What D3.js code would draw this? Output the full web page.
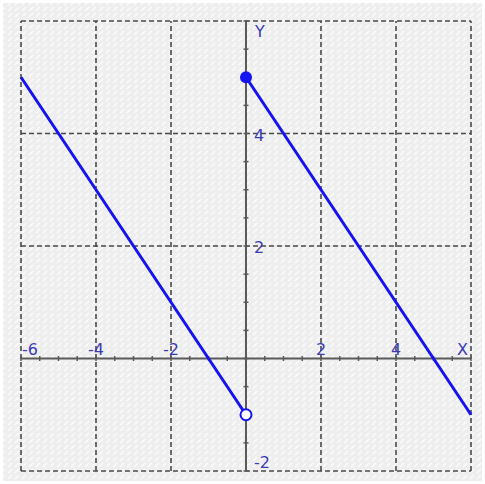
<!DOCTYPE html>
<html><head><meta charset="utf-8">
<script src="https://cdn.jsdelivr.net/npm/d3@7"></script>
<style>html,body{margin:0;padding:0;background:#fff;}svg{display:block;}</style>
</head><body>
<script>
const xDomain = [-6, 6];
const yDomain = [-2, 6];
const xTickLabels = [-6, -4, -2, 2, 4];
const yTickLabels = [-2, 2, 4];
const gridX = [-6, -4, -2, 2, 4, 6];
const gridY = [-2, 2, 4, 6];
const minorStep = 0.5;
// piece 1: y = -x - 1 on [-6, 0)
const leftX = [-6, 0];
const leftY = [5, -1];
// piece 2: y = 5 - x on [0, 6]
const rightX = [0, 6];
const rightY = [5, -1];
const closedPt = [0, 5];
const openPt = [0, -1];

const W = 485, H = 484;
const svg = d3.select("body").append("svg").attr("width", W).attr("height", H);
const defs = svg.append("defs");
const pat = defs.append("pattern").attr("id","tex").attr("patternUnits","userSpaceOnUse")
  .attr("width",7).attr("height",6);
pat.append("rect").attr("width",7).attr("height",6).attr("fill","#eeeeee");
pat.append("line").attr("x1",1).attr("y1",5).attr("x2",5).attr("y2",1)
  .attr("stroke","#fcfcfc").attr("stroke-width",1.3);
svg.append("rect").attr("x",3).attr("y",3).attr("width",W-6).attr("height",H-6).attr("fill","url(#tex)");

const x = d3.scaleLinear().domain(xDomain).range([21, 471]);
const y = d3.scaleLinear().domain(yDomain).range([471, 21]);

const gridColor = "#4a4a4a";
const g = svg.append("g");
gridX.forEach(v => g.append("line").attr("x1", x(v)).attr("x2", x(v)).attr("y1", y(yDomain[0])).attr("y2", y(yDomain[1]))
  .attr("stroke", gridColor).attr("stroke-width", 1.6).attr("stroke-dasharray", "5,3"));
gridY.forEach(v => g.append("line").attr("y1", y(v)).attr("y2", y(v)).attr("x1", x(xDomain[0])).attr("x2", x(xDomain[1]))
  .attr("stroke", gridColor).attr("stroke-width", 1.6).attr("stroke-dasharray", "5,3"));

const axisColor = "#5a5a5a";
g.append("line").attr("x1", x(xDomain[0])).attr("x2", x(xDomain[1])).attr("y1", y(0)).attr("y2", y(0))
  .attr("stroke", axisColor).attr("stroke-width", 2);
g.append("line").attr("x1", x(0)).attr("x2", x(0)).attr("y1", y(yDomain[0])).attr("y2", y(yDomain[1]))
  .attr("stroke", axisColor).attr("stroke-width", 2);
d3.range(xDomain[0], xDomain[1] + 0.001, minorStep).forEach(v => g.append("line")
  .attr("x1", x(v)).attr("x2", x(v)).attr("y1", y(0) - 2.5).attr("y2", y(0) + 2.5)
  .attr("stroke", axisColor).attr("stroke-width", 1.5));
d3.range(yDomain[0], yDomain[1] + 0.001, minorStep).forEach(v => g.append("line")
  .attr("y1", y(v)).attr("y2", y(v)).attr("x1", x(0) - 2.5).attr("x2", x(0) + 2.5)
  .attr("stroke", axisColor).attr("stroke-width", 1.5));

const labColor = "#3b3bb5";
const font = "DejaVu Sans, Verdana, sans-serif";
const fs = 16;
xTickLabels.forEach(v => {
  const px = v === xDomain[0] ? x(v) + 1 : x(v);
  g.append("text").attr("x", px).attr("y", y(0) - 4)
    .attr("text-anchor", v === xDomain[0] ? "start" : "middle")
    .attr("fill", labColor).attr("font-family", font).attr("font-size", fs).text(v);
});
g.append("text").attr("x", x(xDomain[1]) - 3).attr("y", y(0) - 4).attr("text-anchor", "end")
  .attr("fill", labColor).attr("font-family", font).attr("font-size", fs).text("X");
yTickLabels.forEach(v => {
  g.append("text").attr("x", x(0) + 8).attr("y", v === yDomain[0] ? y(v) - 3 : y(v) + 7)
    .attr("fill", labColor).attr("font-family", font).attr("font-size", fs).text(v);
});
g.append("text").attr("x", x(0) + 9).attr("y", y(yDomain[1]) + 16)
  .attr("fill", labColor).attr("font-family", font).attr("font-size", fs).text("Y");

const lineGen = d3.line().x(d => x(d[0])).y(d => y(d[1]));
const blue = "#1414f0";
g.append("path").attr("d", lineGen(d3.zip(leftX, leftY))).attr("stroke", blue).attr("stroke-width", 3).attr("fill", "none");
g.append("path").attr("d", lineGen(d3.zip(rightX, rightY))).attr("stroke", blue).attr("stroke-width", 3).attr("fill", "none");
g.append("circle").attr("cx", x(closedPt[0])).attr("cy", y(closedPt[1])).attr("r", 6).attr("fill", blue);
g.append("circle").attr("cx", x(openPt[0])).attr("cy", y(openPt[1])).attr("r", 5.5).attr("fill", "#fff")
  .attr("stroke", blue).attr("stroke-width", 2);
</script>
</body></html>
